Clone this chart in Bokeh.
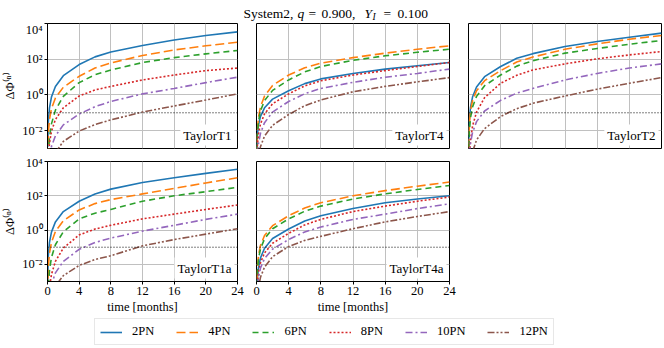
from bokeh.plotting import figure
from bokeh.models import (Range1d, FixedTicker, CustomJSTickFormatter, Span, Label,
                          Legend, LegendItem, Spacer)
from bokeh.layouts import column, row
from bokeh.embed import file_html
from bokeh.resources import INLINE

# ---------------- data ----------------
t_months = [0.02, 0.1, 0.25, 0.5, 1, 2, 4, 6, 8, 12, 16, 20, 24]
x_ticks = [0, 4, 8, 12, 16, 20, 24]
y_ticks = [1e-2, 1e0, 1e2, 1e4]
y_tick_labels = ["10⁻²", "10⁰", "10²", "10⁴"]
threshold = 0.1
orders = ["2PN", "4PN", "6PN", "8PN", "10PN", "12PN"]
approximants = ["TaylorT1", "TaylorT4", "TaylorT2", "TaylorT1a", "TaylorT4a"]

taylor_t1 = [
    [0.0012, 0.03, 0.19, 0.76, 3.0, 12, 50, 135, 255, 589, 1200, 2140, 3390],
    [3e-4, 0.0068, 0.043, 0.17, 0.68, 2.7, 11, 32, 62, 162, 331, 562, 891],
    [1e-5, 4e-4, 0.0041, 0.024, 0.14, 0.83, 4.9, 13.5, 25, 65, 123, 200, 309],
    [1e-6, 2.5e-4, 0.002, 0.0091, 0.042, 0.19, 0.87, 1.9, 3.0, 6.9, 13, 23, 32],
    [1e-6, 1e-5, 3e-4, 0.0013, 0.0051, 0.021, 0.085, 0.22, 0.43, 1.15, 2.3, 4.9, 9.8],
    [1e-7, 1e-6, 4e-5, 1.5e-4, 6e-4, 0.0025, 0.0095, 0.022, 0.04, 0.11, 0.24, 0.52, 1.15],
]
taylor_t4 = [
    [4e-4, 0.0051, 0.021, 0.063, 0.19, 0.58, 1.7, 4.3, 7.9, 16, 28, 43, 65],
    [4e-4, 0.0095, 0.058, 0.22, 0.87, 3.4, 13, 33, 60, 123, 219, 363, 562],
    [2.5e-4, 0.0054, 0.033, 0.13, 0.48, 1.8, 6.9, 19.5, 39, 87, 155, 245, 363],
    [6e-5, 0.0013, 0.0066, 0.024, 0.087, 0.32, 1.15, 3.2, 6.2, 13, 23, 39, 65],
    [1e-5, 3e-4, 0.0019, 0.0072, 0.028, 0.11, 0.43, 1.17, 2.3, 5.1, 9.8, 16, 28],
    [1e-6, 1e-5, 3.2e-4, 0.0013, 0.005, 0.02, 0.08, 0.25, 0.52, 1.5, 3.0, 5.4, 9.3],
]
taylor_t2 = [
    [0.0017, 0.036, 0.2, 0.76, 2.8, 10.5, 39, 112, 205, 513, 977, 1700, 2880],
    [0.0011, 0.023, 0.13, 0.48, 1.7, 6.3, 23, 70, 132, 363, 724, 1320, 2140],
    [3.3e-4, 0.0083, 0.052, 0.21, 0.83, 3.3, 13, 41, 82, 219, 398, 692, 1120],
    [1e-5, 2.5e-4, 0.0028, 0.018, 0.11, 0.71, 4.5, 12.6, 25, 55, 105, 174, 269],
    [1e-5, 3e-4, 0.002, 0.0079, 0.032, 0.126, 0.5, 1.26, 2.3, 6.9, 16, 32, 55],
    [1e-6, 1e-5, 1.4e-4, 6.5e-4, 0.003, 0.013, 0.062, 0.17, 0.34, 0.87, 2.1, 4.5, 9.3],
]
taylor_t1a = [
    [0.0012, 0.03, 0.19, 0.76, 3.0, 12, 48, 128, 245, 589, 1120, 2040, 3550],
    [2.5e-4, 0.0066, 0.046, 0.19, 0.83, 3.5, 15, 35, 60, 129, 269, 562, 1120],
    [1e-5, 4.5e-4, 0.0045, 0.025, 0.14, 0.79, 4.5, 9.7, 16, 48, 100, 174, 309],
    [1e-6, 1e-5, 4.4e-4, 0.0026, 0.015, 0.089, 0.52, 1.15, 1.9, 4.5, 8.5, 16, 29],
    [1e-6, 1e-5, 1.3e-4, 6.5e-4, 0.0032, 0.015, 0.075, 0.19, 0.34, 0.87, 1.9, 4.2, 8.5],
    [1e-7, 1e-6, 3.5e-5, 1.4e-4, 5.5e-4, 0.0022, 0.0087, 0.019, 0.032, 0.12, 0.28, 0.58, 1.2],
]
taylor_t4a = [
    [1e-4, 0.0013, 0.0066, 0.024, 0.087, 0.32, 1.15, 3.4, 6.9, 18, 39, 65, 100],
    [2.5e-4, 0.0054, 0.033, 0.13, 0.48, 1.8, 6.9, 19.5, 39, 100, 200, 363, 631],
    [1.6e-4, 0.0035, 0.021, 0.081, 0.31, 1.2, 4.5, 12.6, 25, 65, 129, 234, 398],
    [3e-5, 6e-4, 0.0034, 0.0126, 0.047, 0.17, 0.65, 2.0, 4.2, 12, 25, 48, 85],
    [1e-5, 3e-4, 0.0017, 0.0062, 0.022, 0.078, 0.28, 0.78, 1.5, 4.2, 8.5, 18, 34],
    [1e-6, 1e-5, 4.5e-4, 0.0018, 0.007, 0.028, 0.11, 0.25, 0.43, 1.2, 3.0, 6.2, 12],
]

# ---------------- style ----------------
FONT = "Liberation Serif"
colors = ["#1f77b4", "#ff7f0e", "#2ca02c", "#d62728", "#9467bd", "#8c564b"]
dashes = ["solid", "9 4", "6 4", "2 2", "7 3 2 3", "7 2 2 2 2 2"]
LW = 1.6


def make_panel(name, series, w, h, bl, br, bt, bb, show_x, show_y):
    p = figure(width=w, height=h, x_range=Range1d(0, 24), y_range=Range1d(1e-3, 1e4),
               y_axis_type="log", output_backend="svg", toolbar_location=None,
               min_border_left=bl, min_border_right=br, min_border_top=bt,
               min_border_bottom=bb)
    p.outline_line_color = "black"
    p.outline_line_alpha = 1.0
    p.outline_line_width = 1
    p.background_fill_color = "white"
    p.border_fill_color = "white"
    p.xaxis.ticker = FixedTicker(ticks=x_ticks)
    p.yaxis.ticker = FixedTicker(ticks=y_ticks)
    p.yaxis.formatter = CustomJSTickFormatter(
        args=dict(tvals=y_ticks, tlabels=y_tick_labels),
        code="""
        for (let i = 0; i < tvals.length; i++) {
            if (Math.abs(Math.log10(tick) - Math.log10(tvals[i])) < 1e-6) return tlabels[i];
        }
        return "";
        """)
    for ax in p.axis:
        ax.axis_line_color = "black"
        ax.axis_line_width = 1
        ax.major_tick_line_color = "black"
        ax.major_tick_in = 0
        ax.major_tick_out = 3
        ax.minor_tick_line_color = None
        ax.major_label_text_font = FONT
        ax.major_label_text_font_size = "12.5px"
        ax.major_label_text_color = "black"
        ax.major_label_standoff = 2
        ax.axis_label_text_font = FONT
        ax.axis_label_text_font_size = "12.5px"
        ax.axis_label_text_font_style = "normal"
        ax.axis_label_text_color = "black"
        ax.axis_label_standoff = 2
    if show_x:
        p.xaxis.axis_label = "time [months]"
    else:
        p.xaxis.visible = False
    if show_y:
        p.yaxis.axis_label = "ΔΦ⁽ⁿ⁾"
    else:
        p.yaxis.visible = False
    p.grid.grid_line_color = "#c0c0c0"
    p.grid.grid_line_width = 1

    for vals, color, dash in zip(series, colors, dashes):
        p.line(t_months, vals, line_color=color, line_dash=dash, line_width=LW)

    p.add_layout(Span(location=threshold, dimension="width", line_color="black",
                      line_dash="1 2", line_width=1))
    p.add_layout(Label(x=24, y=1e-3, x_offset=-3, y_offset=3, text=name,
                       text_align="right", text_baseline="bottom", text_font=FONT,
                       text_font_size="13px", text_color="black",
                       background_fill_color="white", background_fill_alpha=1.0,
                       padding=3))
    return p


# Title strip (pieces so that q and Y_I can be italic)
title_fig = figure(width=664, height=22, x_range=Range1d(0, 664), y_range=Range1d(0, 22),
                   output_backend="svg", toolbar_location=None, min_border=0,
                   x_axis_location=None, y_axis_location=None)
title_fig.grid.visible = False
title_fig.outline_line_color = None
title_pieces = [
    ("System2,", 243, 9, "normal", "13.5px"),
    ("q", 297, 9, "italic", "13.5px"),
    ("=", 308, 9, "normal", "13.5px"),
    ("0.900,", 321, 9, "normal", "13.5px"),
    ("Y", 364, 9, "italic", "13.5px"),
    ("I", 372, 6, "italic", "9.5px"),
    ("=", 383, 9, "normal", "13.5px"),
    ("0.100", 397, 9, "normal", "13.5px"),
]
for txt, xx, yy, style, size in title_pieces:
    title_fig.add_layout(Label(x=xx, y=yy, text=txt, text_font=FONT, text_font_size=size,
                               text_font_style=style, text_color="black",
                               text_baseline="alphabetic", text_align="left"))

p1 = make_panel(approximants[0], taylor_t1, 246, 133, 43, 9, 1, 7, False, True)
p2 = make_panel(approximants[1], taylor_t4, 212, 133, 10, 9, 1, 7, False, False)
p3 = make_panel(approximants[2], taylor_t2, 206, 133, 10, 3, 1, 7, False, False)
p4 = make_panel(approximants[3], taylor_t1a, 246, 161, 43, 9, 6, 30, True, True)
p5 = make_panel(approximants[4], taylor_t4a, 212, 161, 10, 9, 6, 30, True, False)

# Legend strip (its lines lie outside the strip's view; only the legend shows)
lf = figure(width=664, height=32, x_range=Range1d(-2, -1), y_range=Range1d(-2, -1),
            output_backend="svg", toolbar_location=None, min_border=0,
            x_axis_location=None, y_axis_location=None)
lf.grid.visible = False
lf.outline_line_color = None
items = []
for name, vals, color, dash in zip(orders, taylor_t1, colors, dashes):
    r = lf.line(t_months, vals, line_color=color, line_dash=dash, line_width=LW)
    items.append(LegendItem(label=name, renderers=[r]))
leg = Legend(items=items, orientation="horizontal", location=(94, 3),
             label_text_font=FONT, label_text_font_size="12.5px", label_text_color="black",
             glyph_width=22, glyph_height=12, label_height=12, label_standoff=10,
             spacing=22, padding=5, margin=0, border_line_color="#d0d0d0",
             border_line_width=1, background_fill_color="white", background_fill_alpha=1)
lf.add_layout(leg)

layout = column(title_fig,
                row(p1, p2, p3),
                row(p4, p5, Spacer(width=206, height=161)),
                lf)

open("out.html", "w").write(file_html(layout, INLINE))
